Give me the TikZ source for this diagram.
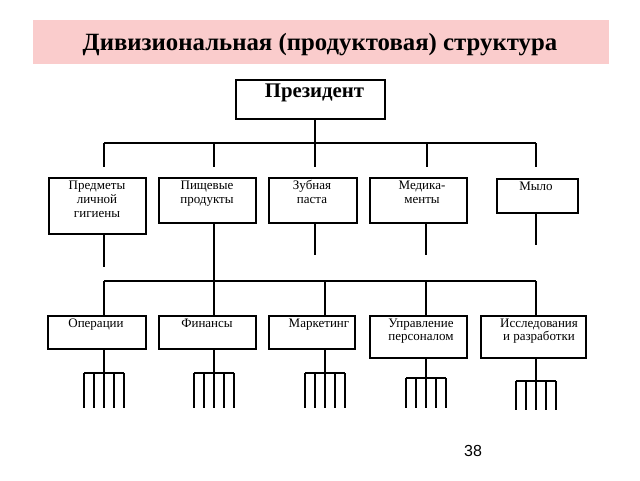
\documentclass[tikz,border=0pt]{standalone}
\usepackage{fontspec}
\setmainfont{Liberation Serif}
\newfontfamily\numfont{Liberation Sans}
\definecolor{titlepink}{RGB}{250,204,204}
\begin{document}
\begin{tikzpicture}[x=1pt,y=-1pt,line width=1.7pt,
  box/.style={draw=black,line width=1.7pt,inner sep=0pt,anchor=north west},
  lbl/.style={font=\fontsize{13}{14}\selectfont,align=center,anchor=base,inner sep=0pt},
  ln/.style={draw=black,line width=1.7pt}]
\useasboundingbox (0,0) rectangle (640,480);
% title
\node[fill=titlepink,minimum width=576pt,minimum height=44pt,inner sep=0pt,anchor=north west] (band) at (32,19) {};
\node[font=\fontsize{24.8}{28}\selectfont\bfseries,anchor=base,inner sep=0pt] (title) at (320,50) {Дивизиональная (продуктовая) структура};
% president
\node[box,minimum width=149pt,minimum height=39pt] (pres) at (235,79) {};
\node[font=\fontsize{20.8}{22}\selectfont\bfseries,anchor=base,inner sep=0pt] (prest) at (314.5,97) {Президент};
% level 2 boxes
\node[box,minimum width=97pt,minimum height=56pt] (b1) at (48,177) {};
\node[box,minimum width=97pt,minimum height=45pt] (b2) at (158,177) {};
\node[box,minimum width=88pt,minimum height=45pt] (b3) at (268,177) {};
\node[box,minimum width=97pt,minimum height=45pt] (b4) at (369,177) {};
\node[box,minimum width=81pt,minimum height=34pt] (b5) at (496,178) {};
\node[lbl] (t1) at (97,217) {Предметы\\личной\\гигиены};
\node[lbl] (t2) at (207,203) {Пищевые\\продукты};
\node[lbl] (t3) at (312,203) {Зубная\\паста};
\node[lbl] (t4) at (422,203) {Медика-\\менты};
\node[lbl] (t5) at (536,190) {Мыло};
% level 3 boxes
\node[box,minimum width=98pt,minimum height=33pt] (c1) at (47,315) {};
\node[box,minimum width=97pt,minimum height=33pt] (c2) at (158,315) {};
\node[box,minimum width=86pt,minimum height=33pt] (c3) at (268,315) {};
\node[box,minimum width=97pt,minimum height=42pt] (c4) at (369,315) {};
\node[box,minimum width=105pt,minimum height=42pt] (c5) at (480,315) {};
\node[lbl] (u1) at (96,327) {Операции};
\node[lbl] (u2) at (207,327) {Финансы};
\node[lbl] (u3) at (319,327) {Маркетинг};
\node[lbl,font=\fontsize{13}{13}\selectfont] (u4) at (421,340) {Управление\\персоналом};
\node[lbl,font=\fontsize{13}{13}\selectfont] (u5) at (539,340) {Исследования\\и разработки};
% upper bus
\coordinate (busA) at (315,143);
\coordinate (busL) at (104,143);
\coordinate (busR) at (536,143);
\draw[ln] (pres.south -| busA) -- (busA);
\draw[ln] (busL) -- (busR);
\foreach \x [count=\i] in {104,214,315,427,536} {
  \coordinate (ud\i) at (\x,143);
  \coordinate (ue\i) at (\x,167);
  \draw[ln] (ud\i) -- (ue\i);
}
% stems under level 2
\coordinate (s1) at (104,267);
\coordinate (s2) at (214,281);
\coordinate (s3) at (315,255);
\coordinate (s4) at (426,255);
\coordinate (s5) at (536,245);
\foreach \i in {1,...,5} {\draw[ln] (s\i |- b\i.south) -- (s\i);}
% lower bus
\coordinate (lbL) at (104,281);
\coordinate (lbR) at (536,281);
\draw[ln] (lbL) -- (lbR);
\foreach \x [count=\i] in {104,214,325,426,536} {
  \coordinate (ld\i) at (\x,281);
  \draw[ln] (ld\i) -- (ld\i |- c\i.north);
}
% forks
\foreach \n/\x/\by/\bot in {c1/104/373/408, c2/214/373/408, c3/325/373/408, c4/426/378/408, c5/536/381/410} {
  \coordinate (\n-s) at (\x,\by);
  \draw[ln] (\n-s |- \n.south) -- (\n-s);
  \coordinate (\n-L) at (\x-20,\by);
  \coordinate (\n-R) at (\x+20,\by);
  \draw[ln] (\n-L) -- (\n-R);
  \foreach \d in {-20,-10,0,10,20} {\draw[ln] (\x+\d,\by) -- (\x+\d,\bot);}
}
% page number
\node[font=\numfont\fontsize{16}{18}\selectfont,anchor=base,inner sep=0pt] (pg) at (473,456) {38};
\end{tikzpicture}
\end{document}
